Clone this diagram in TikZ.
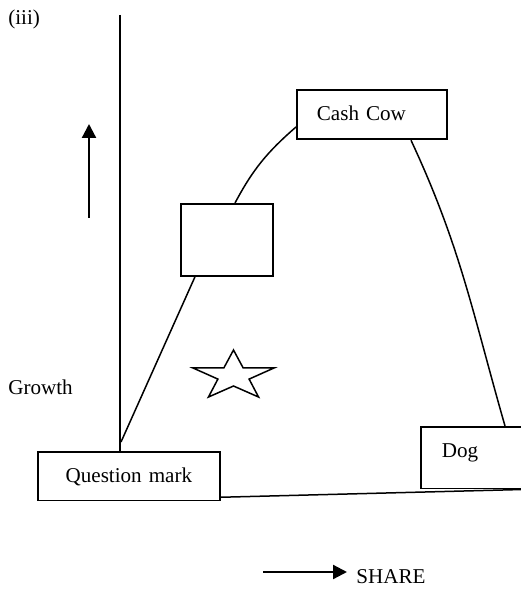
\documentclass[tikz,border=0pt]{standalone}
\usepackage{fontspec}
\setmainfont{Liberation Serif}
\usetikzlibrary{arrows.meta,positioning,shapes.geometric,calc}

\begin{document}
\begin{tikzpicture}[x=0.2mm,y=-0.2mm,
  box/.style={draw,line width=0.35mm,inner ysep=0,text height=6.1mm,align=left,
    font=\fontsize{12}{14}\selectfont},
  lbl/.style={inner sep=0,font=\fontsize{12}{14}\selectfont},
  curve/.style={line width=0.3mm},
  arr/.style={-{Triangle[length=2.8mm,width=2.8mm]},line width=0.45mm}
]
  \useasboundingbox (0,0) rectangle (520,590);

  \node[lbl,anchor=base west] (part) at (8,25) {(iii)};

  % Quadrants
  \node[box,anchor=north west,text width=22mm,inner xsep=4mm,text depth=3.8mm] (cow) at (296,89) {Cash Cow};
  \node[box,anchor=north west,minimum width=18.4mm,minimum height=14.4mm] (star) at (180,203) {};
  \node[box,anchor=north west,text width=13.6mm,inner xsep=4.2mm,text depth=6.2mm] (dog) at (420,426) {Dog};
  \node[box,anchor=north west,text width=28mm,inner xsep=4.2mm,align=center,text depth=3.6mm] (qm) at (37,451) {Question mark};

  % Star mark
  \begin{scope}[shift={(233.5,376)},xscale=1.64]
    \node[star,star points=5,star point ratio=2.6,draw,line width=0.3mm,
      minimum size=10.4mm,inner sep=0,transform shape] (starmark) at (0,0) {};
  \end{scope}

  % Growth axis
  \coordinate (axtop) at (120,15);
  \draw[curve] (axtop) -- (axtop |- qm.north);
  \coordinate (gbot) at (89,218);
  \coordinate (gtop) at (89,124);
  \draw[arr] (gbot) -- (gtop);
  \node[lbl,anchor=base west] (growth) at (8,394) {Growth};

  % Life cycle
  \coordinate (qmstart) at (121,442);
  \draw[curve] (qmstart) -- ($(star.south west)+(15,0)$);
  \draw[curve] ($(star.north west)+(55,0)$) to[out=62,in=221] ($(cow.north west)+(0,38)$);
  \draw[curve] ($(cow.south west)+(115,0)$) to[out=-65,in=106] ($(dog.north west)+(85,0)$);
  \draw[curve] ($(qm.south east)+(0,-4)$) -- (dog.south east);

  % Share axis
  \node[lbl,anchor=base west] (share) at (356,583) {SHARE};
  \coordinate (stail) at (263,572);
  \draw[arr,shorten >=1.8mm] (stail) -- (stail -| share.west);
\end{tikzpicture}
\end{document}
